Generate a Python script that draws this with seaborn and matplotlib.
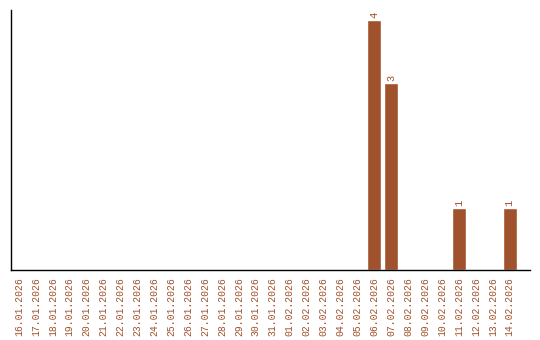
import matplotlib
matplotlib.use("Agg")
import matplotlib.pyplot as plt
import seaborn as sns
import pandas as pd

dates = ["16.01.2026", "17.01.2026", "18.01.2026", "19.01.2026", "20.01.2026",
         "21.01.2026", "22.01.2026", "23.01.2026", "24.01.2026", "25.01.2026",
         "26.01.2026", "27.01.2026", "28.01.2026", "29.01.2026", "30.01.2026",
         "31.01.2026", "01.02.2026", "02.02.2026", "03.02.2026", "04.02.2026",
         "05.02.2026", "06.02.2026", "07.02.2026", "08.02.2026", "09.02.2026",
         "10.02.2026", "11.02.2026", "12.02.2026", "13.02.2026", "14.02.2026"]
counts = [0, 0, 0, 0, 0, 0, 0, 0, 0, 0,
          0, 0, 0, 0, 0, 0, 0, 0, 0, 0,
          0, 4, 3, 0, 0, 0, 1, 0, 0, 1]

sns.set_style("white")
plt.rcParams['font.family'] = ['Liberation Mono', 'DejaVu Sans Mono']

bar_color = "#a0522d"
df = pd.DataFrame({"date": dates, "count": counts})

fig = plt.figure(figsize=(5.4, 3.4), dpi=100)
ax = fig.add_axes([10.5/540, 1 - 270/340, 519.5/540, 260/340])
sns.barplot(data=df, x="date", y="count", color=bar_color, width=0.83,
            saturation=1, ax=ax, order=dates)
for p, v in zip(ax.patches, counts):
    if v > 0:
        ax.text(p.get_x() + p.get_width() / 2, p.get_height() + 0.03, str(v),
                rotation=90, ha="center", va="bottom", color=bar_color, fontsize=7.5)
ax.set_ylim(0, 4.16)
ax.set_xlim(-0.5, 30.2)
ax.set_yticks([])
ax.set_xlabel("")
ax.set_ylabel("")
ax.tick_params(axis="x", length=0, pad=5, labelsize=7, labelcolor=bar_color, rotation=90)
for s in ["top", "right"]:
    ax.spines[s].set_visible(False)
for s in ["left", "bottom"]:
    ax.spines[s].set_color("black")
    ax.spines[s].set_linewidth(1.0)
fig.savefig("out.png", dpi=100)
